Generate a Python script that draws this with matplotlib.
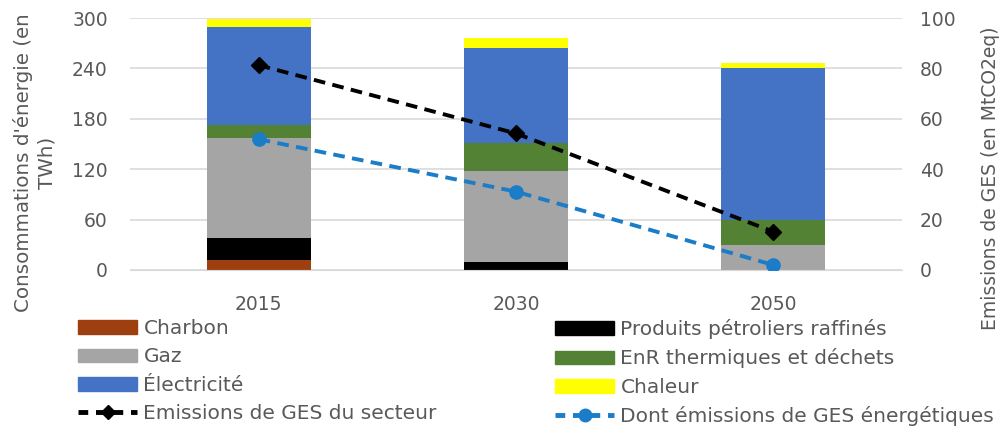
import numpy as np
import matplotlib
matplotlib.use("Agg")
import matplotlib.pyplot as plt
from matplotlib.patches import Patch
from matplotlib.lines import Line2D

# Données
annees = ["2015", "2030", "2050"]
charbon = [12, 0, 0]
petrole = [26.5, 10, 0]
gaz = [119, 108, 30]
enr = [15, 33, 30]
electricite = [117, 113, 180]
chaleur = [9, 12, 7]
emissions_secteur = [81.3, 54.2, 15.2]
emissions_energie = [51.9, 31.1, 2.0]

plt.rcParams['font.family'] = ['DejaVu Sans']
gris_txt = '#595959'
fs = 13.5
fs_leg = 14.5
tirets = (0, (3, 1.9))

fig = plt.figure(figsize=(10.06, 4.26), dpi=100)
ax = fig.add_axes([0.1292, 0.3662, 0.7674, 0.5915])
ax2 = ax.twinx()

x = np.arange(len(annees))
larg = 0.405
couches = [
    (charbon, '#9E3F0F', 'Charbon'),
    (petrole, '#000000', 'Produits pétroliers raffinés'),
    (gaz, '#A5A5A5', 'Gaz'),
    (enr, '#548235', 'EnR thermiques et déchets'),
    (electricite, '#4472C4', 'Électricité'),
    (chaleur, '#FFFF00', 'Chaleur'),
]
bas = np.zeros(len(annees))
for vals, coul, nom in couches:
    ax.bar(x, vals, larg, bottom=bas, color=coul, zorder=2)
    bas += np.array(vals)

ax2.plot(x, emissions_secteur, color='black', linestyle=tirets, lw=2.8,
         marker='D', markersize=8, zorder=3)
ax2.plot(x, emissions_energie, color='#1B7CC7', linestyle=tirets, lw=2.8,
         marker='o', markersize=9.5, zorder=3)

ax.set_xlim(-0.5, 2.5)
ax.set_ylim(0, 300)
ax.set_yticks(range(0, 301, 60))
ax2.set_ylim(0, 100)
ax2.set_yticks(range(0, 101, 20))
ax.set_xticks(x)
ax.set_xticklabels(annees)

ax.grid(axis='y', color='#D9D9D9', lw=1.2, zorder=0)
ax.set_axisbelow(True)
for a in (ax, ax2):
    for s in a.spines.values():
        s.set_visible(False)
ax.spines['bottom'].set_visible(True)
ax.spines['bottom'].set_color('#D9D9D9')
ax.tick_params(axis='y', length=0, pad=16, labelsize=fs, labelcolor=gris_txt)
ax.tick_params(axis='x', length=0, pad=18, labelsize=fs, labelcolor=gris_txt)
ax2.tick_params(axis='y', length=0, pad=13, labelsize=fs, labelcolor=gris_txt)

ax.set_ylabel("Consommations d'énergie (en\nTWh)", fontsize=14.3, color=gris_txt,
              linespacing=1.35)
ax.yaxis.set_label_coords(-0.0946, 0.425)
ax2.set_ylabel("Emissions de GES (en MtCO2eq)", fontsize=fs, color=gris_txt)
ax2.yaxis.set_label_coords(1.102, 0.365)

# légende en deux blocs (colonne gauche / colonne droite)
def poignee(i):
    return Patch(color=couches[i][1])

gauche = [poignee(0), poignee(2), poignee(4),
          Line2D([], [], color='black', linestyle=(0, (2, 1.6)), lw=3.5,
                 marker='D', markersize=7)]
noms_g = ['Charbon', 'Gaz', 'Électricité', 'Emissions de GES du secteur']
droite = [poignee(1), poignee(3), poignee(5),
          Line2D([], [], color='#1B7CC7', linestyle=(0, (2, 1.6)), lw=3.5,
                 marker='o', markersize=9)]
noms_d = ['Produits pétroliers raffinés', 'EnR thermiques et déchets', 'Chaleur',
          'Dont émissions de GES énergétiques']

opts = dict(loc='upper left', frameon=False, fontsize=fs_leg, handlelength=2.95,
            handleheight=0.65, handletextpad=0.3, labelspacing=0.47,
            borderaxespad=0, borderpad=0)
for poi, noms, x0 in ((gauche, noms_g, 78), (droite, noms_d, 555)):
    leg = fig.legend(poi, noms, bbox_to_anchor=(x0 / 1006, 1 - 319 / 426), **opts)
    for t in leg.get_texts():
        t.set_color(gris_txt)

fig.savefig('out.png', dpi=100)
